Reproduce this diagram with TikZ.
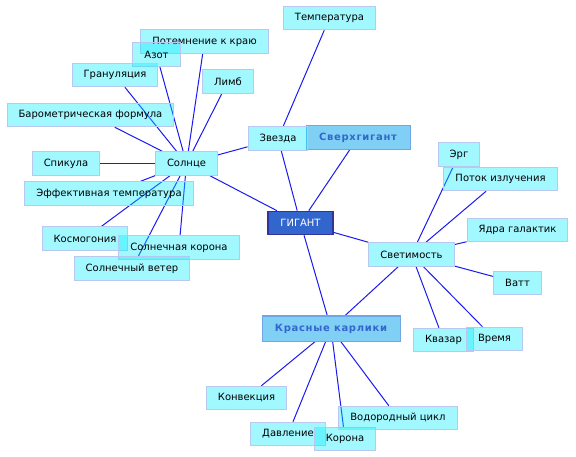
\documentclass[tikz,border=0pt]{standalone}
\usepackage{fontspec}
\setmainfont{DejaVu Sans}
\newfontfamily\hubfont[LetterSpace=7]{DejaVu Sans}
\usetikzlibrary{backgrounds}
\definecolor{mmLeaf}{HTML}{00ECFF}
\definecolor{mmLeafLine}{HTML}{B8C8F0}
\definecolor{mmHub}{HTML}{80D0F6}
\definecolor{mmHubLine}{HTML}{6FA6E6}
\definecolor{mmHubText}{HTML}{3366CC}
\definecolor{mmRoot}{HTML}{3366CC}
\definecolor{mmRootLine}{HTML}{333399}
\definecolor{mmEdge}{HTML}{1A1AF0}
\tikzset{
  mmnode/.style={
    draw, rectangle, inner xsep=11.5pt, inner ysep=0pt, minimum height=23.5pt,
    font=\fontsize{10}{12}\selectfont, line width=1pt
  },
  leaf/.style={mmnode, fill=mmLeaf, fill opacity=0.37, text opacity=1, draw=mmLeafLine},
  hub/.style={mmnode, fill=mmHub, draw=mmHubLine, text=mmHubText,
    font=\hubfont\fontsize{10}{12}\selectfont\bfseries},
  root/.style={mmnode, fill=mmRoot, draw=mmRootLine, text=white, line width=1.2pt},
  link/.style={mmEdge, line width=1pt}
}
\begin{document}
\begin{tikzpicture}[x=1pt, y=-1pt]
  \useasboundingbox (0,0) rectangle (576,457);
  % hubs
  \node[root, minimum width=65pt] (gigant) at (300.5,223) {ГИГАНТ};
  \node[hub, minimum width=104pt] (sverkh) at (358,137.5) {Сверхгигант};
  \node[hub, minimum width=138pt, minimum height=25pt] (krasnye) at (331,328.5) {Красные карлики};
  % Солнце and Звезда
  \node[leaf] (temp) at (329.5,18) {Температура};
  \node[leaf] (potemn) at (204.5,41.5) {Потемнение к краю};
  \node[leaf] (azot) at (156.5,54.5) {Азот};
  \node[leaf] (granul) at (115,75) {Грануляция};
  \node[leaf] (limb) at (228,81.5) {Лимб};
  \node[leaf] (barom) at (90.5,115) {Барометрическая формула};
  \node[leaf] (zvezda) at (278,138.5) {Звезда};
  \node[leaf] (solnce) at (186.5,163.5) {Солнце};
  \node[leaf] (spikula) at (66,163.5) {Спикула};
  \node[leaf] (efftemp) at (109,193.5) {Эффективная температура};
  \node[leaf] (kosmog) at (85,238.5) {Космогония};
  \node[leaf] (skorona) at (179,247.5) {Солнечная корона};
  \node[leaf] (veter) at (132,268.5) {Солнечный ветер};
  % Светимость
  \node[leaf] (erg) at (459,154.5) {Эрг};
  \node[leaf] (potok) at (500.5,179) {Поток излучения};
  \node[leaf] (yadra) at (517.5,230) {Ядра галактик};
  \node[leaf] (svetim) at (411.5,254.5) {Светимость};
  \node[leaf] (vatt) at (517.5,283) {Ватт};
  \node[leaf] (kvazar) at (443.5,340) {Квазар};
  \node[leaf] (vremya) at (494.5,339) {Время};
  % Красные карлики
  \node[leaf] (konvek) at (246.5,398) {Конвекция};
  \node[leaf] (davlen) at (288,434) {Давление};
  \node[leaf] (korona) at (345,439) {Корона};
  \node[leaf] (vodor) at (398,418) {Водородный цикл};
  % connectors
  \begin{scope}[on background layer]
    \foreach \a/\b in {gigant/solnce, gigant/zvezda, gigant/sverkh, gigant/svetim,
      gigant/krasnye, zvezda/temp, zvezda/solnce,
      solnce/potemn, solnce/azot, solnce/granul, solnce/limb, solnce/barom,
      solnce/spikula, solnce/efftemp, solnce/kosmog, solnce/skorona, solnce/veter,
      svetim/erg, svetim/potok, svetim/yadra, svetim/vatt, svetim/kvazar,
      svetim/vremya, svetim/krasnye,
      krasnye/konvek, krasnye/davlen, krasnye/korona, krasnye/vodor}
      \draw[link] (\a) -- (\b);
  \end{scope}
\end{tikzpicture}
\end{document}
